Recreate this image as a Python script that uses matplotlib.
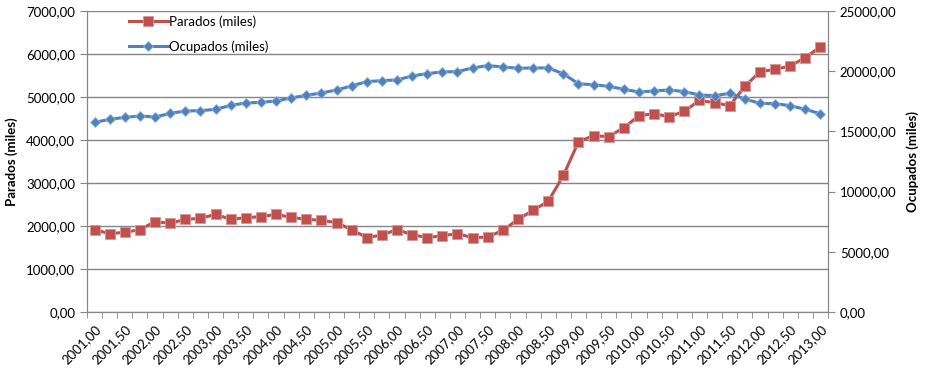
import numpy as np
import matplotlib.pyplot as plt
from matplotlib.ticker import FuncFormatter

plt.rcParams['font.family'] = ['Lato', 'DejaVu Sans']

# trimestres 2001,00 ... 2013,00
periodos = [2001 + 0.25 * i for i in range(49)]

parados = [1915, 1822, 1853, 1915, 2101, 2062, 2155, 2178, 2271, 2155,
           2194, 2217, 2271, 2202, 2155, 2132, 2078, 1915, 1729, 1791,
           1915, 1798, 1729, 1775, 1822, 1729, 1744, 1899, 2155, 2364,
           2574, 3175, 3961, 4101, 4078, 4287, 4566, 4612, 4543, 4667,
           4922, 4868, 4798, 5248, 5589, 5643, 5721, 5915, 6171]

ocupados = [15751, 16000, 16167, 16278, 16194, 16499, 16693, 16721, 16832, 17165,
            17359, 17414, 17525, 17775, 17997, 18191, 18440, 18775, 19134, 19217,
            19273, 19605, 19799, 19938, 19966, 20271, 20465, 20354, 20243, 20271,
            20271, 19785, 18954, 18870, 18746, 18496, 18274, 18357, 18440, 18302,
            18024, 17969, 18163, 17692, 17331, 17303, 17137, 16832, 16471]

rojo = '#C0504D'
azul = '#4F81BD'
gris = '#868686'

fmt = FuncFormatter(lambda v, p: f'{v:.2f}'.replace('.', ','))

fig = plt.figure(figsize=(9.35, 3.7), dpi=100)
ax = fig.add_axes([87 / 935, 1 - 312 / 370, (828 - 87) / 935, (312 - 11) / 370])
ax2 = ax.twinx()

x = np.arange(len(periodos))
l1, = ax.plot(x, parados, color=rojo, lw=2.2, marker='s', ms=6.8,
              markeredgecolor='#D99694', markeredgewidth=0.6, label='Parados (miles)', zorder=3)
l2, = ax2.plot(x, ocupados, color=azul, lw=2.2, marker='D', ms=5.5,
               markeredgecolor='#95B3D7', markeredgewidth=0.6, label='Ocupados (miles)', zorder=3)

ax.set_xlim(-0.5, len(x) - 0.5)
ax.set_ylim(0, 7000)
ax2.set_ylim(0, 25000)
ax.set_yticks(range(0, 7001, 1000))
ax2.set_yticks(range(0, 25001, 5000))
ax.yaxis.set_major_formatter(fmt)
ax2.yaxis.set_major_formatter(fmt)

ax.set_xticks(x[::2])
ax.set_xticklabels([f'{p:.2f}'.replace('.', ',') for p in periodos[::2]],
                   rotation=45, ha='right', rotation_mode='anchor')
ax.set_xticks(np.arange(-0.5, len(x)), minor=True)
ax.tick_params(axis='x', which='major', length=0, pad=8, labelsize=9.5)
ax.tick_params(axis='x', which='minor', length=4, color=gris)
ax.tick_params(axis='y', length=5, color=gris, labelsize=9.5)
ax2.tick_params(axis='y', length=5, color=gris, labelsize=9.5)

ax.grid(axis='y', color=gris, lw=1)
ax.set_axisbelow(True)
for a in (ax, ax2):
    a.spines['top'].set_visible(False)
    for s in ('left', 'right', 'bottom'):
        a.spines[s].set_color(gris)

ax.set_ylabel('Parados (miles)', fontsize=9.5, fontweight='bold', labelpad=6)
ax2.set_ylabel('Ocupados (miles)', fontsize=9.5, fontweight='bold', labelpad=7)

ax2.legend(handles=[l1, l2], loc='upper left', bbox_to_anchor=(0.04, 1.025),
           frameon=False, fontsize=9.5, handlelength=3, handletextpad=0.1,
           labelspacing=0.95)

fig.savefig('out.png', dpi=100)
